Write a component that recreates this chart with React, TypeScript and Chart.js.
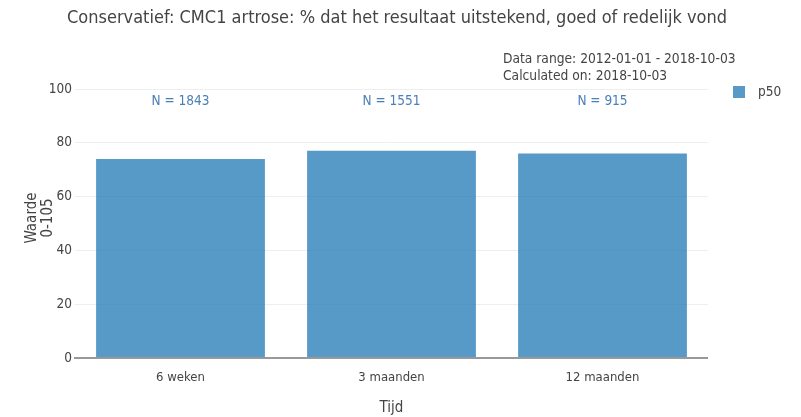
import React, { useEffect, useRef } from "react";
import { Chart, registerables } from "chart.js";

Chart.register(...registerables);

const categories = ["6 weken", "3 maanden", "12 maanden"];
const p50Values = [74, 77, 76];
const nCounts = [1843, 1551, 915];
const yTicks = [0, 20, 40, 60, 80, 100];
const titleText = "Conservatief: CMC1 artrose: % dat het resultaat uitstekend, goed of redelijk vond";
const infoLines = ["Data range: 2012-01-01 - 2018-10-03", "Calculated on: 2018-10-03"];
const yTitle = ["Waarde", "0-105"];
const xTitle = "Tijd";
const seriesName = "p50";

const FONT = "'DejaVu Sans Condensed', 'DejaVu Sans', sans-serif";
const BAR = "rgba(31,119,180,0.75)";
const TEXT = "#444";

export default function App() {
  const ref = useRef<HTMLCanvasElement | null>(null);
  useEffect(() => {
    if (!ref.current) return;
    const overlay = {
      id: "overlay",
      afterDraw(chart: any) {
        const ctx = chart.ctx;
        const { chartArea } = chart;
        const xs = chart.scales.x;
        const ys = chart.scales.y;
        ctx.save();
        ctx.fillStyle = TEXT;
        ctx.textBaseline = "middle";
        ctx.textAlign = "center";
        ctx.font = `18px ${FONT}`;
        ctx.fillText(titleText, 397, 18);
        ctx.font = `13.7px ${FONT}`;
        ctx.textAlign = "left";
        infoLines.forEach((l, i) => ctx.fillText(l, 503, 59 + i * 17));
        // N labels
        ctx.font = `13.5px ${FONT}`;
        ctx.textAlign = "center";
        ctx.fillStyle = "#4a80b8";
        nCounts.forEach((n, i) => {
          ctx.fillText(`N = ${n}`, xs.getPixelForValue(i), ys.getPixelForValue(95.2));
        });
        // legend
        ctx.fillStyle = BAR;
        ctx.fillRect(733, 86, 12, 12);
        ctx.fillStyle = TEXT;
        ctx.textAlign = "left";
        ctx.font = `13.5px ${FONT}`;
        ctx.fillText(seriesName, 758, 92);
        // axis titles
        ctx.font = `15px ${FONT}`;
        ctx.textAlign = "center";
        ctx.fillText(xTitle, (chartArea.left + chartArea.right) / 2, 408);
        ctx.save();
        ctx.translate(40, 218);
        ctx.rotate(-Math.PI / 2);
        ctx.fillText(yTitle[0], 0, -8);
        ctx.fillText(yTitle[1], 0, 8);
        ctx.restore();
        // zero line
        ctx.strokeStyle = "#999";
        ctx.lineWidth = 2;
        ctx.beginPath();
        const y0 = ys.getPixelForValue(0);
        ctx.moveTo(chartArea.left - 1, y0);
        ctx.lineTo(chartArea.right, y0);
        ctx.stroke();
        ctx.restore();
      },
    };
    const chart = new Chart(ref.current, {
      type: "bar",
      data: {
        labels: categories,
        datasets: [
          {
            label: seriesName,
            data: p50Values,
            backgroundColor: BAR,
            borderWidth: 0,
            categoryPercentage: 0.8,
            barPercentage: 1,
          },
        ],
      },
      options: {
        animation: false,
        responsive: false,
        layout: { padding: { top: 89, right: 93, left: 0, bottom: 0 } },
        plugins: { legend: { display: false }, tooltip: { enabled: false }, title: { display: false } },
        scales: {
          x: {
            grid: { display: false },
            border: { display: false },
            ticks: { color: TEXT, font: { family: FONT, size: 13 }, padding: 4 },
            afterFit: (s: any) => {
              s.height = 59;
            },
          },
          y: {
            min: 0,
            max: 100,
            afterBuildTicks: (s: any) => {
              s.ticks = yTicks.map((v) => ({ value: v }));
            },
            grid: { color: "#eee", drawTicks: false },
            border: { display: false },
            ticks: { color: TEXT, font: { family: FONT, size: 13.5 }, padding: 3 },
            afterFit: (s: any) => {
              s.width = 75;
            },
          },
        },
      },
      plugins: [overlay],
    });
    return () => chart.destroy();
  }, []);
  return (
    <div style={{ position: "fixed", left: 0, top: 0, width: 801, height: 417, background: "#fff" }}>
      <canvas ref={ref} width={801} height={417} />
    </div>
  );
}
